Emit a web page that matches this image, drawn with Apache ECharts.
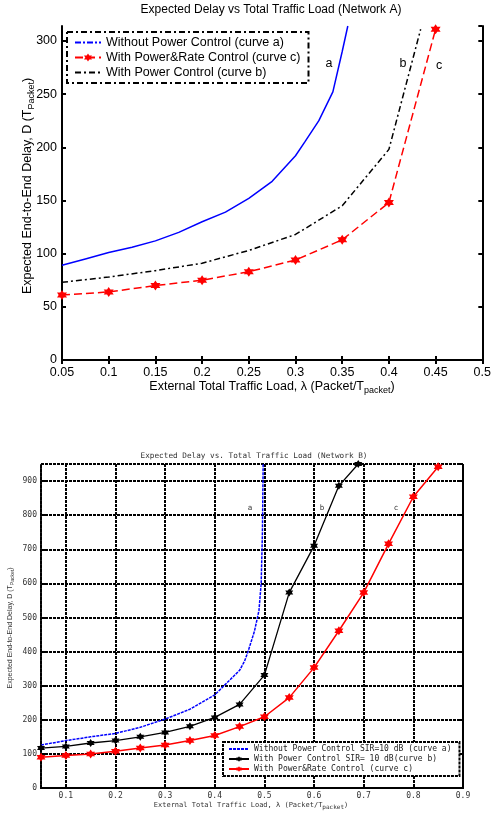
<!DOCTYPE html>
<html>
<head>
    <meta charset="UTF-8">
    <title>Expected Delay vs Total Traffic Load</title>
    <script type="text/javascript" src="https://cdn.jsdelivr.net/npm/echarts@6/dist/echarts.min.js"></script>
    <style>
        html, body { margin: 0; padding: 0; background: #fff; }
        #chart { width: 494px; height: 815px; }
    </style>
</head>
<body>
<div id="chart"></div>
<script>
    // Network A
    var aLoadA = [0.05, 0.075, 0.1, 0.125, 0.15, 0.175, 0.2, 0.225, 0.25, 0.275, 0.3, 0.31, 0.325, 0.34, 0.35, 0.356];
    var aDelayA = [89, 95, 101, 106, 112, 120, 130, 139, 152, 168, 192, 205, 225, 252, 290, 314];
    var bLoadA = [0.05, 0.1, 0.15, 0.2, 0.25, 0.3, 0.35, 0.4, 0.434];
    var bDelayA = [73, 78, 84, 91, 103, 118, 145, 198, 311];
    var cLoadA = [0.05, 0.1, 0.15, 0.2, 0.25, 0.3, 0.35, 0.4, 0.45];
    var cDelayA = [61, 64, 70, 75, 83, 94, 113, 148, 311];

    // Network B
    var aLoadB = [0.05, 0.1, 0.15, 0.2, 0.25, 0.3, 0.35, 0.4, 0.425, 0.45, 0.46, 0.467, 0.48, 0.489, 0.4935, 0.496, 0.4975];
    var aDelayB = [126, 139, 150, 160, 178, 202, 231, 273, 309, 345, 372, 400, 460, 520, 600, 750, 950];
    var bLoadB = [0.05, 0.1, 0.15, 0.2, 0.25, 0.3, 0.35, 0.4, 0.45, 0.5, 0.55, 0.6, 0.65, 0.689];
    var bDelayB = [117, 122, 132, 139, 150, 163, 181, 207, 245, 331, 573, 710, 886, 950];
    var cLoadB = [0.05, 0.1, 0.15, 0.2, 0.25, 0.3, 0.35, 0.4, 0.45, 0.5, 0.55, 0.6, 0.65, 0.7, 0.75, 0.8, 0.85];
    var cDelayB = [90, 95, 100, 108, 117, 126, 139, 154, 180, 209, 265, 353, 461, 573, 716, 854, 942];

    var namesA = ['Without Power Control (curve a)', 'With Power&Rate Control (curve c)', 'With Power Control (curve b)'];
    var namesB = ['B|Without Power Control SIR=10 dB (curve a)', 'B|With Power Control SIR= 10 dB(curve b)', 'B|With Power&Rate Control (curve c)'];

    var star = 'path://M0,-10L2.9,-5L8.66,-5L5.8,0L8.66,5L2.9,5L0,10L-2.9,5L-8.66,5L-5.8,0L-8.66,-5L-2.9,-5Z';
    var fontA = 'Liberation Sans, Arial, sans-serif';
    var fontB = 'DejaVu Sans Mono, monospace';

    function pairs(xs, ys) {
        var out = [];
        for (var i = 0; i < xs.length; i++) out.push([xs[i], ys[i]]);
        return out;
    }

    var myChart = echarts.init(document.getElementById('chart'));

    var axisA = {
        axisLine: {lineStyle: {color: '#000', width: 2}},
        axisTick: {inside: true, length: 4, lineStyle: {color: '#000', width: 2}},
        splitLine: {show: false}
    };
    var dotB = {color: '#000', width: 2, type: [3, 1]};
    var noMark = {opacity: 0};

    myChart.setOption({
        animation: false,
        grid: [
            {left: 62, top: 26, right: 11, bottom: 455},
            {left: 41, top: 464, right: 31, bottom: 27}
        ],
        xAxis: [
            Object.assign({
                gridIndex: 0, type: 'value', min: 0.05, max: 0.5, interval: 0.05, position: 'bottom',
                axisLabel: {fontFamily: fontA, fontSize: 12.5, color: '#000', margin: 6}
            }, axisA),
            Object.assign({
                gridIndex: 0, type: 'value', min: 0.05, max: 0.5, interval: 0.05, position: 'top',
                axisLabel: {show: false}
            }, axisA),
            {
                gridIndex: 1, type: 'value', min: 0.05, max: 0.9, interval: 0.05, position: 'bottom',
                axisLine: {lineStyle: dotB},
                axisTick: {show: false},
                axisLabel: {
                    fontFamily: fontB, fontSize: 8, color: '#333', margin: 4,
                    formatter: function (v) {
                        return Math.round(v * 100) % 10 === 0 ? (Math.round(v * 10) / 10).toString() : '';
                    }
                },
                splitLine: {show: true, lineStyle: {color: ['rgba(0,0,0,0)', '#000'], width: 2, type: [3, 1]}}
            },
            {
                gridIndex: 1, type: 'value', min: 0.05, max: 0.9, interval: 0.05, position: 'top',
                axisLine: {lineStyle: dotB}, axisTick: {show: false}, axisLabel: {show: false},
                splitLine: {show: false}
            }
        ],
        yAxis: [
            Object.assign({
                gridIndex: 0, type: 'value', min: 0, max: 314, interval: 50, position: 'left',
                axisLabel: {fontFamily: fontA, fontSize: 12.5, color: '#000', margin: 5, showMaxLabel: false}
            }, axisA),
            Object.assign({
                gridIndex: 0, type: 'value', min: 0, max: 314, interval: 50, position: 'right',
                axisLabel: {show: false}
            }, axisA),
            {
                gridIndex: 1, type: 'value', min: 0, max: 950, interval: 100, position: 'left',
                axisLine: {lineStyle: dotB},
                axisTick: {inside: true, length: 4, lineStyle: {color: '#000', width: 2}},
                axisLabel: {fontFamily: fontB, fontSize: 8, color: '#333', margin: 4, showMaxLabel: false},
                splitLine: {show: true, lineStyle: dotB}
            },
            {
                gridIndex: 1, type: 'value', min: 0, max: 950, interval: 100, position: 'right',
                axisLine: {lineStyle: dotB},
                axisTick: {inside: true, length: 4, lineStyle: {color: '#000', width: 2}},
                axisLabel: {show: false}, splitLine: {show: false}
            }
        ],
        legend: [
            {
                left: 67, top: 32, orient: 'vertical', selectedMode: false,
                data: [
                    {name: namesA[0], lineStyle: {type: [6, 2, 2, 2]}, itemStyle: noMark},
                    {name: namesA[1]},
                    {name: namesA[2], itemStyle: noMark}
                ],
                itemWidth: 26, itemHeight: 10, itemGap: 2,
                padding: [4, 8, 4, 7],
                backgroundColor: '#fff',
                borderColor: '#000', borderWidth: 2, borderType: [6, 3, 2, 3],
                textStyle: {fontFamily: fontA, fontSize: 12.5, color: '#000'}
            },
            {
                left: 223, top: 742, orient: 'vertical', selectedMode: false,
                data: [
                    {name: namesB[0], itemStyle: noMark},
                    {name: namesB[1]},
                    {name: namesB[2]}
                ],
                itemWidth: 20, itemHeight: 7, itemGap: 2,
                padding: [3, 8, 3, 5],
                backgroundColor: '#fff',
                borderColor: '#000', borderWidth: 2, borderType: [3, 1],
                formatter: function (n) { return n.split('|')[1]; },
                textStyle: {fontFamily: fontB, fontSize: 8, color: '#222'}
            }
        ],
        series: [
            {
                name: namesA[0], type: 'line', xAxisIndex: 0, yAxisIndex: 0, symbol: 'none',
                lineStyle: {color: '#0000ff', width: 1.5}, itemStyle: {color: '#0000ff'},
                data: pairs(aLoadA, aDelayA)
            },
            {
                name: namesA[1], type: 'line', xAxisIndex: 0, yAxisIndex: 0,
                symbol: star, symbolSize: 10,
                lineStyle: {color: '#ff0000', width: 1.5, type: [8, 4]}, itemStyle: {color: '#ff0000'},
                data: pairs(cLoadA, cDelayA)
            },
            {
                name: namesA[2], type: 'line', xAxisIndex: 0, yAxisIndex: 0, symbol: 'none',
                lineStyle: {color: '#000', width: 1.5, type: [6, 3, 2, 3]}, itemStyle: {color: '#000'},
                data: pairs(bLoadA, bDelayA)
            },
            {
                name: namesB[0], type: 'line', xAxisIndex: 2, yAxisIndex: 2, symbol: 'none',
                lineStyle: {color: '#0000ff', width: 1.5, type: [3, 1]}, itemStyle: {color: '#0000ff'},
                data: pairs(aLoadB, aDelayB)
            },
            {
                name: namesB[1], type: 'line', xAxisIndex: 2, yAxisIndex: 2,
                symbol: star, symbolSize: 8,
                lineStyle: {color: '#000', width: 1.3}, itemStyle: {color: '#000'},
                data: pairs(bLoadB, bDelayB)
            },
            {
                name: namesB[2], type: 'line', xAxisIndex: 2, yAxisIndex: 2,
                symbol: star, symbolSize: 9,
                lineStyle: {color: '#ff0000', width: 1.5}, itemStyle: {color: '#ff0000'},
                data: pairs(cLoadB, cDelayB)
            }
        ],
        graphic: [
            {type: 'text', x: 271, y: 10, style: {text: 'Expected Delay vs Total Traffic Load (Network A)', font: '12px ' + fontA, fill: '#000', align: 'center', verticalAlign: 'middle'}},
            {type: 'text', x: 272, y: 387, style: {
                text: 'External Total Traffic Load, λ (Packet/T{s|packet})', font: '12.5px ' + fontA, fill: '#000',
                align: 'center', verticalAlign: 'middle',
                rich: {s: {fontSize: 9, fontFamily: fontA, padding: [8, 0, 0, 0]}}
            }},
            {type: 'text', x: 28, y: 186, rotation: Math.PI / 2, style: {
                text: 'Expected End-to-End Delay, D (T{s|Packet})', font: '12.5px ' + fontA, fill: '#000',
                align: 'center', verticalAlign: 'middle',
                rich: {s: {fontSize: 9, fontFamily: fontA, padding: [8, 0, 0, 0]}}
            }},
            {type: 'text', x: 329, y: 64, style: {text: 'a', font: '12.5px ' + fontA, fill: '#000', align: 'center', verticalAlign: 'middle'}},
            {type: 'text', x: 403, y: 64, style: {text: 'b', font: '12.5px ' + fontA, fill: '#000', align: 'center', verticalAlign: 'middle'}},
            {type: 'text', x: 439, y: 66, style: {text: 'c', font: '12.5px ' + fontA, fill: '#000', align: 'center', verticalAlign: 'middle'}},

            {type: 'text', x: 254, y: 456, style: {text: 'Expected Delay vs. Total Traffic Load (Network B)', font: '7.7px ' + fontB, fill: '#333', align: 'center', verticalAlign: 'middle'}},
            {type: 'text', x: 251, y: 805, style: {
                text: 'External Total Traffic Load, λ (Packet/T{s|packet})', font: '7px ' + fontB, fill: '#333',
                align: 'center', verticalAlign: 'middle',
                rich: {s: {fontSize: 6, fontFamily: fontB, padding: [5, 0, 0, 0]}}
            }},
            {type: 'text', x: 10, y: 628, rotation: Math.PI / 2, style: {
                text: 'Expected End-to-End Delay, D (T{s|Packet})', font: '7px ' + fontA, fill: '#333',
                align: 'center', verticalAlign: 'middle',
                rich: {s: {fontSize: 5, fontFamily: fontA, padding: [5, 0, 0, 0]}}
            }},
            {type: 'text', x: 250, y: 508, style: {text: 'a', font: '7.5px ' + fontB, fill: '#333', align: 'center', verticalAlign: 'middle'}},
            {type: 'text', x: 322, y: 508, style: {text: 'b', font: '7.5px ' + fontB, fill: '#333', align: 'center', verticalAlign: 'middle'}},
            {type: 'text', x: 396, y: 508, style: {text: 'c', font: '7.5px ' + fontB, fill: '#333', align: 'center', verticalAlign: 'middle'}}
        ]
    });
</script>
</body>
</html>
